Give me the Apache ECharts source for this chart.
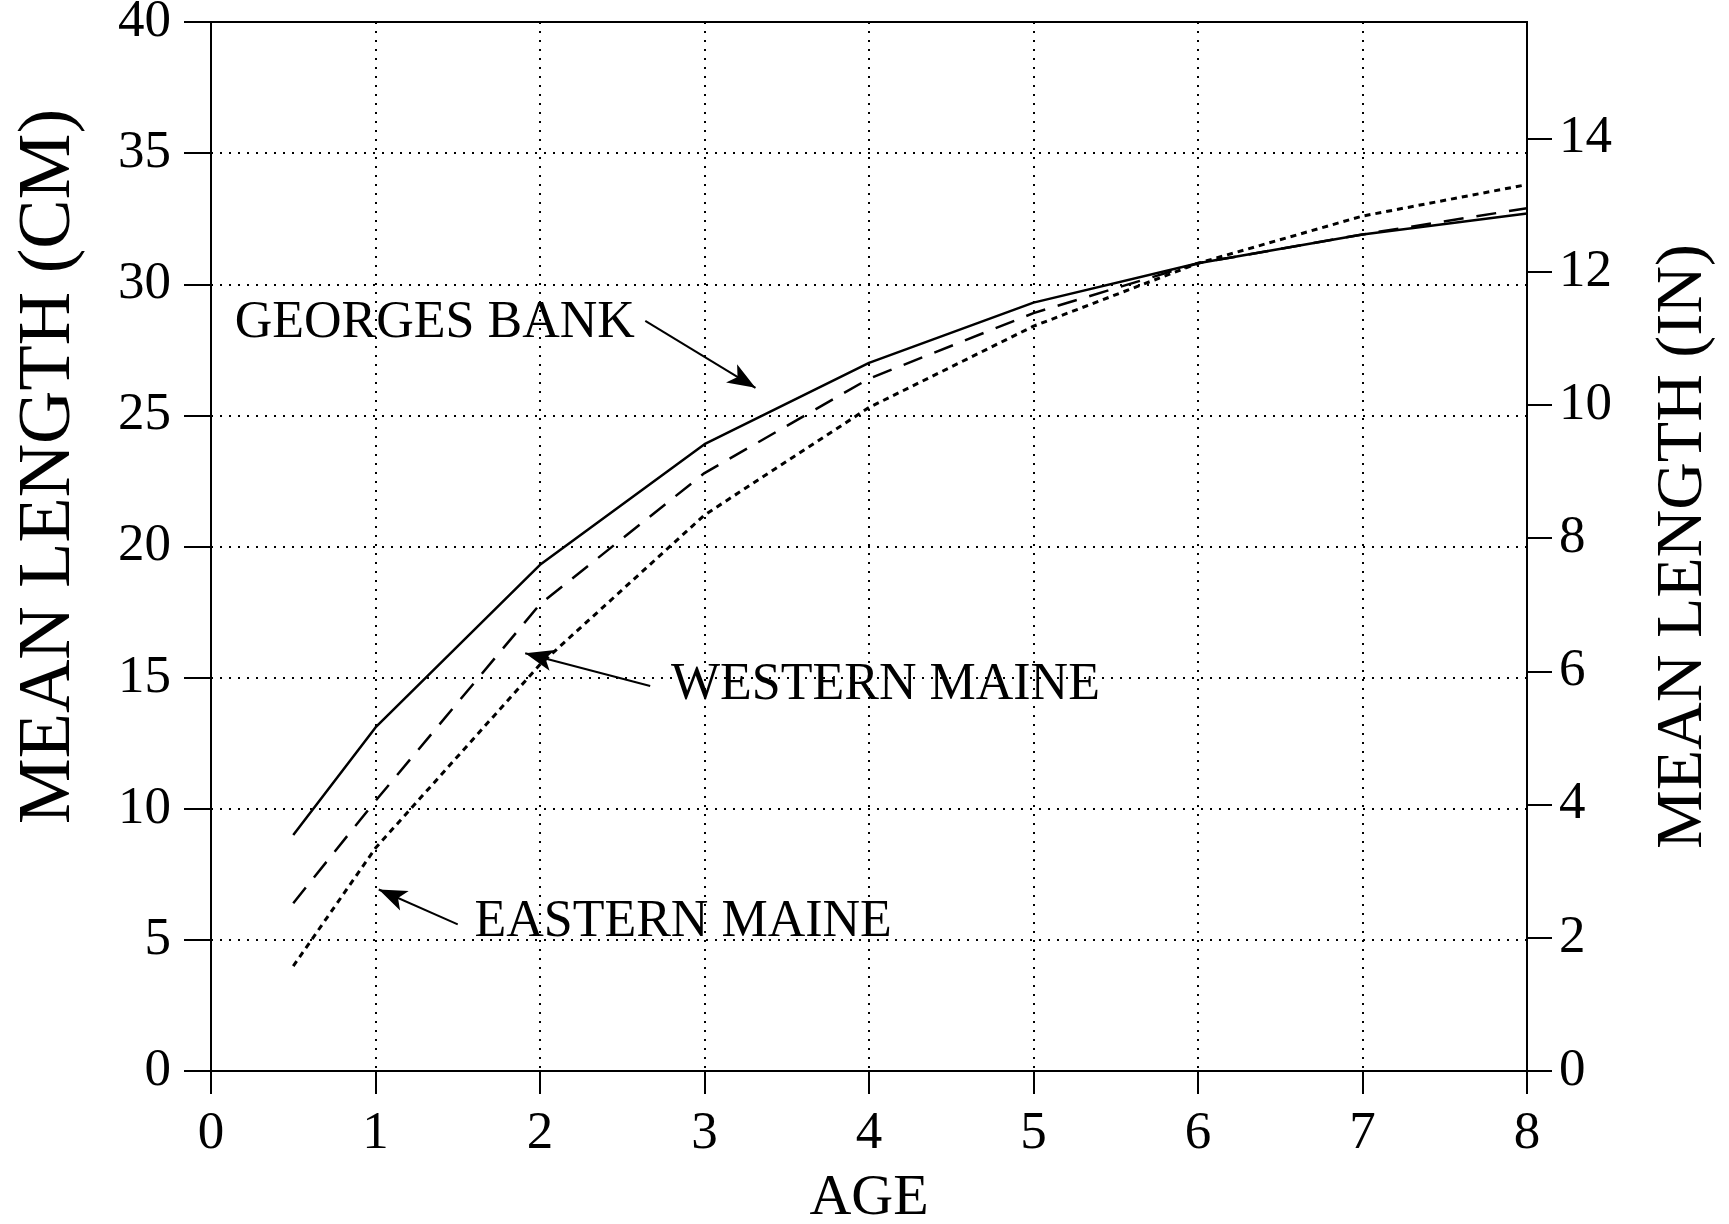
<!DOCTYPE html>
<html>
<head>
<meta charset="utf-8">
<title>Mean length at age</title>
<script src="https://cdn.jsdelivr.net/npm/echarts@6/dist/echarts.min.js"></script>
<style>
html, body { margin: 0; padding: 0; background: #fff; }
#chart { width: 1729px; height: 1224px; }
</style>
</head>
<body>
<div id="chart"></div>
<script>
// ages (years) and mean length (cm)
var ages = [0.5, 1, 2, 3, 4, 5, 6, 7, 8];
var georgesBank = [9.0, 13.1, 19.3, 23.9, 27.0, 29.3, 30.8, 31.9, 32.7];
var westernMaine = [6.4, 10.3, 17.8, 22.8, 26.4, 28.9, 30.8, 31.9, 32.9];
var easternMaine = [4.0, 8.5, 15.5, 21.2, 25.3, 28.4, 30.8, 32.6, 33.8];
var inchTicks = [0, 2, 4, 6, 8, 10, 12, 14];

var FONT = 'Liberation Serif';

function pairs(ys) {
  return ages.map(function (a, i) { return [a, ys[i]]; });
}

// label text + arrow for each curve (in axis units)
function note(text, at, from, to) {
  return {
    markPoint: {
      silent: true,
      symbol: 'rect',
      symbolSize: 0,
      label: {
        show: true,
        position: 'inside',
        formatter: text,
        color: '#000',
        fontFamily: FONT,
        fontSize: 52
      },
      data: [{ coord: at }]
    },
    markLine: {
      silent: true,
      symbol: ['none', 'arrow'],
      symbolSize: [16, 28],
      label: { show: false },
      lineStyle: { color: '#000', width: 2, type: 'solid' },
      data: [[{ coord: from }, { coord: to }]]
    }
  };
}

function lineSeries(name, ys, dash, width, extra) {
  var s = {
    name: name,
    type: 'line',
    data: pairs(ys),
    showSymbol: false,
    symbol: 'none',
    lineStyle: { color: '#000', width: width, type: dash }
  };
  return Object.assign(s, extra);
}

var myChart = echarts.init(document.getElementById('chart'));
var option = {
  animation: false,
  backgroundColor: '#fff',
  grid: {
    left: 211, right: 202, top: 22, bottom: 153,
    outerBoundsMode: 'none',
    show: true, borderColor: '#000', borderWidth: 2
  },
  xAxis: {
    type: 'value',
    min: 0, max: 8, interval: 1,
    name: 'AGE',
    nameLocation: 'middle',
    nameGap: 99,
    nameTextStyle: { color: '#000', fontFamily: FONT, fontSize: 58 },
    axisLine: { onZero: false, lineStyle: { color: '#000', width: 2 } },
    axisTick: { show: true, inside: false, length: 23, lineStyle: { color: '#000', width: 2 } },
    axisLabel: { color: '#000', fontFamily: FONT, fontSize: 53, margin: 37 },
    splitLine: { show: true, lineStyle: { color: '#000', width: 2, type: [2, 7] } }
  },
  yAxis: [
    {
      type: 'value',
      position: 'left',
      min: 0, max: 40, interval: 5,
      name: 'MEAN LENGTH (CM)',
      nameLocation: 'middle',
      nameGap: 124,
      nameTextStyle: { color: '#000', fontFamily: FONT, fontSize: 74, padding: [0, 0, 0, 160] },
      axisLine: { show: true, lineStyle: { color: '#000', width: 2 } },
      axisTick: { show: true, inside: false, length: 27, lineStyle: { color: '#000', width: 2 } },
      axisLabel: { color: '#000', fontFamily: FONT, fontSize: 53, margin: 40 },
      splitLine: { show: true, lineStyle: { color: '#000', width: 2, type: [2, 7] } }
    },
    {
      type: 'value',
      position: 'right',
      min: 0, max: 40 / 2.54,
      name: 'MEAN LENGTH (IN)',
      nameLocation: 'middle',
      nameGap: 124,
      nameRotate: 90,
      nameTextStyle: { color: '#000', fontFamily: FONT, fontSize: 66 },
      axisLine: { show: true, lineStyle: { color: '#000', width: 2 } },
      axisTick: { show: true, inside: false, length: 25, customValues: inchTicks, lineStyle: { color: '#000', width: 2 } },
      axisLabel: { color: '#000', fontFamily: FONT, fontSize: 53, margin: 32, customValues: inchTicks },
      splitLine: { show: false }
    }
  ],
  series: [
    lineSeries('GEORGES BANK', georgesBank, 'solid', 2.5,
      note('GEORGES BANK', [1.36, 28.5], [2.64, 28.6], [3.31, 26.05])),
    lineSeries('WESTERN MAINE', westernMaine, [20, 13], 2.5,
      note('WESTERN MAINE', [4.1, 14.7], [2.67, 14.68], [1.91, 15.93])),
    lineSeries('EASTERN MAINE', easternMaine, [6, 5], 3,
      note('EASTERN MAINE', [2.87, 5.67], [1.5, 5.59], [1.02, 6.92]))
  ]
};
myChart.setOption(option);
</script>
</body>
</html>
